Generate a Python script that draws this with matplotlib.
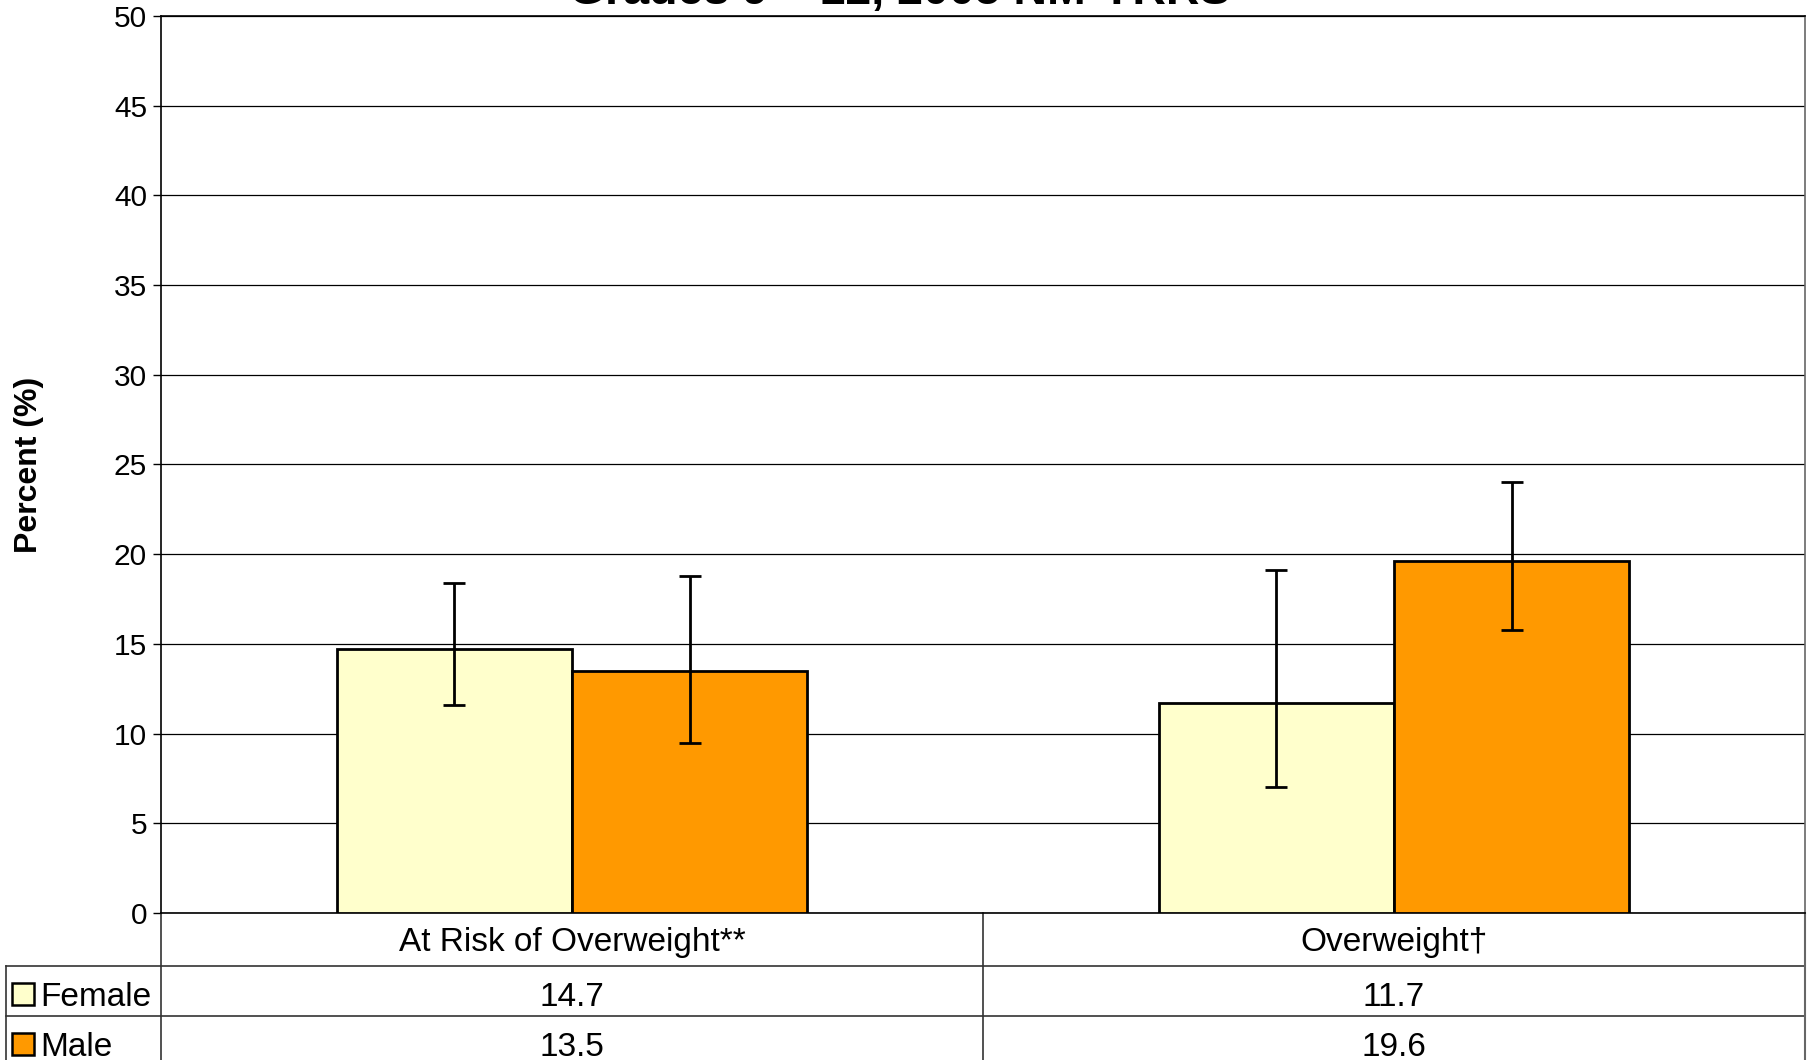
import matplotlib.pyplot as plt
import matplotlib.transforms as mtransforms
from matplotlib.patches import Rectangle
import numpy as np

plt.rcParams['font.family'] = ['Liberation Sans', 'DejaVu Sans']

title = "Grades 9 \u2013 12, 2005 NM-YRRS"
categories = ["At Risk of Overweight**", "Overweight\u2020"]
series = ["Female", "Male"]
female = [14.7, 11.7]
male = [13.5, 19.6]
female_lo = [11.6, 7.0]
female_hi = [18.4, 19.1]
male_lo = [9.5, 15.8]
male_hi = [18.8, 24.0]
colors = ["#FFFFCC", "#FF9900"]

W, H = 1813, 1060
fig = plt.figure(figsize=(W / 100, H / 100), dpi=100)
ax = fig.add_axes([161 / W, 1 - 913 / H, (1805 - 161) / W, (913 - 16) / H])

x = np.arange(len(categories))
bw = 0.286
vals = [female, male]
los = [female_lo, male_lo]
his = [female_hi, male_hi]
for i, (v, lo, hi) in enumerate(zip(vals, los, his)):
    v = np.array(v)
    xs = x + (i - 0.5) * bw
    ax.bar(xs, v, bw, color=colors[i], edgecolor='black', linewidth=2, zorder=3)
    err = [v - np.array(lo), np.array(hi) - v]
    ax.errorbar(xs, v, yerr=err, fmt='none', ecolor='black', elinewidth=2,
                capsize=8, capthick=2, zorder=4)

ax.set_xlim(-0.5, len(categories) - 0.5)
ax.set_ylim(0, 50)
ax.set_yticks(np.arange(0, 51, 5))
ax.yaxis.grid(True, color='black', linewidth=0.9)
ax.set_axisbelow(True)
ax.set_xticks([])
ax.tick_params(axis='y', labelsize=21.5, length=6, width=1, pad=4, direction='out')
for s in ['left', 'bottom', 'right', 'top']:
    ax.spines[s].set_color('black')
    ax.spines[s].set_linewidth(1.2)
ax.spines['right'].set_color('#666666')
ax.set_ylabel("Percent (%)", fontsize=23, fontweight='bold')
ax.yaxis.set_label_coords(-0.071, 0.5)

fig.text(900 / W, 1 - 4 / H, title, ha='center', va='baseline',
         fontsize=33.5, fontweight='bold')

# data table under the axis
ah = 913 - 16
aw = 1805 - 161
def fy(py):
    return (913 - py) / ah
def fx(px):
    return (px - 161) / aw

blend = mtransforms.blended_transform_factory(ax.transData, ax.transAxes)
lk = dict(color='#333333', linewidth=1.2, clip_on=False)
ax.plot([fx(6), 1], [fy(966), fy(966)], transform=ax.transAxes, **lk)
ax.plot([fx(6), 1], [fy(1016), fy(1016)], transform=ax.transAxes, **lk)
ax.plot([fx(6), fx(6)], [fy(966), fy(1070)], transform=ax.transAxes, **lk)
ax.plot([0, 0], [0, fy(1070)], transform=ax.transAxes, **lk)
ax.plot([0.5, 0.5], [0, fy(1070)], transform=blend, **lk)
ax.plot([1, 1], [0, fy(1070)], transform=ax.transAxes, color='#666666',
        linewidth=1.5, clip_on=False)

for j, c in enumerate(categories):
    ax.text(x[j], fy(943), c, transform=blend, ha='center', va='center', fontsize=24)
row_y = [fy(997), fy(1047)]
sq_y = [fy(994), fy(1044)]
for i, name in enumerate(series):
    ax.add_patch(Rectangle((fx(12), sq_y[i] - 11 / ah), 22 / aw, 22 / ah,
                           transform=ax.transAxes, facecolor=colors[i],
                           edgecolor='black', linewidth=1.8, clip_on=False))
    ax.text(fx(40), row_y[i], name, transform=ax.transAxes, ha='left',
            va='center', fontsize=24)
    for j in range(len(categories)):
        ax.text(x[j], row_y[i], f"{vals[i][j]:.1f}", transform=blend,
                ha='center', va='center', fontsize=24)

fig.savefig("out.png", dpi=100)
